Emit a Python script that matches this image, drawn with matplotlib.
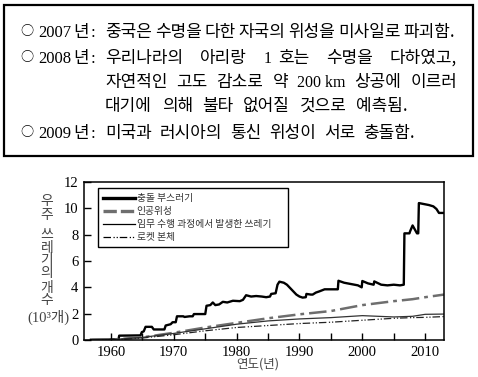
import numpy as np
import matplotlib
matplotlib.use('Agg')
import matplotlib.pyplot as plt
from matplotlib.lines import Line2D
from matplotlib.patches import Rectangle

# --- data (thousands of objects) ---
frag_years = [1956.8, 1961.2, 1961.3, 1964.7, 1964.9, 1965.2, 1965.5, 1966.5, 1966.8, 1968.5,
              1968.7, 1969.5, 1969.8, 1970.3, 1970.5, 1971.5, 1971.7, 1972.5, 1973.0, 1973.2,
              1975.0, 1975.2, 1975.8, 1976.2, 1976.6, 1977.2, 1977.8, 1978.5, 1979.4, 1980.5,
              1981.0, 1981.5, 1982.3, 1983.1, 1984.0, 1984.7, 1985.3, 1985.5, 1986.2, 1986.5,
              1986.8, 1987.5, 1988.0, 1988.5, 1989.0, 1989.5, 1990.0, 1990.5, 1991.0, 1991.1,
              1991.8, 1992.1, 1992.6, 1993.2, 1994.0, 1994.8, 1996.1, 1996.2, 1997.1, 1998.2,
              1999.3, 1999.9, 2000.0, 2000.9, 2001.8, 2001.9, 2003.0, 2004.0, 2005.0, 2006.0,
              2006.6, 2006.7, 2007.5, 2007.6, 2008.0, 2008.7, 2008.9, 2009.0, 2010.6, 2011.3,
              2011.8, 2012.2, 2013.0]
frag_vals = [0.02, 0.05, 0.33, 0.35, 0.6, 0.65, 1.0, 1.0, 0.8, 0.8,
             1.1, 1.2, 1.35, 1.35, 1.8, 1.8, 1.75, 1.8, 1.8, 1.97,
             1.97, 2.6, 2.65, 2.85, 2.65, 2.7, 2.9, 2.85, 2.98, 2.95,
             3.05, 3.4, 3.3, 3.34, 3.3, 3.25, 3.3, 3.5, 3.55, 4.2,
             4.43, 4.35, 4.2, 3.95, 3.7, 3.45, 3.3, 3.22, 3.25, 3.5,
             3.45, 3.45, 3.6, 3.7, 3.85, 3.85, 3.85, 4.5, 4.35, 4.25,
             4.15, 4.0, 4.48, 4.3, 4.2, 4.45, 4.2, 4.15, 4.2, 4.15,
             4.2, 8.1, 8.1, 8.25, 8.7, 8.1, 8.1, 10.4, 10.25, 10.15,
             9.95, 9.65, 9.65]

other_years = [1957, 1960, 1965, 1970, 1975, 1980, 1985, 1990, 1995, 2000, 2005, 2008, 2010, 2013]
sat_vals = [0.0, 0.03, 0.2, 0.55, 0.95, 1.3, 1.65, 1.95, 2.2, 2.65, 2.95, 3.1, 3.25, 3.45]
mission_vals = [0.0, 0.03, 0.2, 0.5, 0.85, 1.2, 1.45, 1.6, 1.7, 1.85, 1.75, 1.8, 1.95, 1.97]
rocket_vals = [0.0, 0.02, 0.15, 0.4, 0.7, 0.95, 1.1, 1.25, 1.35, 1.5, 1.65, 1.7, 1.72, 1.78]

legend_labels = ['충돌 부스러기', '인공위성', '임무 수행 과정에서 발생한 쓰레기', '로켓 본체']

# text lines of the box: (words, x start, x end, y centre); a tuple word is kept together
box_lines = [
    (['중국은', '수명을', '다한', '자국의', '위성을', '미사일로', '파괴함.'], 105, 455, 32),
    (['우리나라의', '아리랑', ('1', '호는'), '수명을', '다하였고,'], 105, 457, 58),
    (['자연적인', '고도', '감소로', '약', '200 km', '상공에', '이르러'], 105, 457, 82),
    (['대기에', '의해', '불타', '없어질', '것으로', '예측됨.'], 105, 408, 106),
    (['미국과', '러시아의', '통신', '위성이', '서로', '충돌함.'], 105, 415, 133),
]
year_marks = [('2007', 32), ('2008', 58), ('2009', 133)]

W, H = 478, 377
fig = plt.figure(figsize=(W / 100, H / 100), dpi=100)
serif = ['Liberation Serif', 'DejaVu Serif']
sans_kr = ['Noto Sans CJK KR', 'DejaVu Sans']


def fx(x):
    return x / W


def fy(y):
    return (H - y) / H


def has_hangul(s):
    return any('\uac00' <= c <= '\ud7a3' for c in s)


# --- top box ---
fig.add_artist(Rectangle((fx(3.5), fy(155.5)), fx(469), 150.5 / H, transform=fig.transFigure,
                         fill=False, edgecolor='black', linewidth=1.6))

renderer = fig.canvas.get_renderer()
fs_kr = 12.2
fs_num = 11.5
inner_gap = 7


def make_text(w, y):
    if has_hangul(w):
        return fig.text(0, fy(y), w, family=sans_kr, fontsize=fs_kr, va='center', ha='left')
    return fig.text(0, fy(y + 1), w, family=serif, fontsize=fs_num, va='center', ha='left')


for words, x0, x1, y in box_lines:
    groups = []
    for w in words:
        parts = w if isinstance(w, tuple) else (w,)
        texts = [make_text(p, y) for p in parts]
        widths = [t.get_window_extent(renderer).width for t in texts]
        groups.append((texts, widths))
    total = sum(sum(ws) + inner_gap * (len(ws) - 1) for _, ws in groups)
    gap = (x1 - x0 - total) / (len(groups) - 1)
    x = x0
    for texts, widths in groups:
        for t, w in zip(texts, widths):
            t.set_x(fx(x))
            x += w + inner_gap
        x += gap - inner_gap

for yr, y in year_marks:
    fig.text(fx(20), fy(y), '○', family=sans_kr, fontsize=9.5, va='center', ha='left')
    fig.text(fx(38), fy(y + 1), yr, family=serif, fontsize=12, va='center', ha='left')
    fig.text(fx(73), fy(y), '년', family=sans_kr, fontsize=fs_kr, va='center', ha='left')
    fig.text(fx(91), fy(y + 1), ':', family=serif, fontsize=12, va='center', ha='left')

# --- chart ---
ax = fig.add_axes([fx(84), fy(340), fx(360), 158 / H])
ax.plot(frag_years, frag_vals, color='black', linewidth=1.7)
ax.plot(other_years, sat_vals, color='#6e6e6e', linewidth=1.8, linestyle=(0, (7, 2, 1.5, 2)))
ax.plot(other_years, mission_vals, color='#333333', linewidth=0.9)
ax.plot(other_years, rocket_vals, color='#222222', linewidth=0.9, linestyle=(0, (6, 2, 1, 1.5, 1, 1.5)))

ax.set_xlim(1955.7, 2013)
ax.set_ylim(0, 12)
ax.set_xticks([1960, 1970, 1980, 1990, 2000, 2010])
ax.set_xticks(np.arange(1965, 2010, 10), minor=True)
ax.set_yticks(np.arange(0, 13, 2))
ax.tick_params(direction='in', length=5, width=1, labelsize=10.5, pad=4)
ax.tick_params(which='minor', direction='in', length=5, width=1)
for lab in ax.get_xticklabels() + ax.get_yticklabels():
    lab.set_family('Liberation Serif')
for s in ax.spines.values():
    s.set_linewidth(1.1)

handles = [
    Line2D([], [], color='black', linewidth=2.4),
    Line2D([], [], color='#6e6e6e', linewidth=2.4, linestyle=(0, (4, 1.2))),
    Line2D([], [], color='black', linewidth=0.9),
    Line2D([], [], color='black', linewidth=0.9, linestyle=(0, (6, 2, 1, 1.5, 1, 1.5))),
]
leg = ax.legend(handles, legend_labels, loc='upper left',
                bbox_to_anchor=(0.038, 0.96, 0.53, 0.0), mode='expand',
                prop={'family': sans_kr, 'size': 7}, handlelength=3.3, handletextpad=0.2,
                labelspacing=0.3, borderpad=0.5, fancybox=False, framealpha=1,
                edgecolor='black', borderaxespad=0)
leg.get_frame().set_linewidth(1.0)
for t in leg.get_texts():
    t.set_color('#333333')

# axis labels
lab_col = '#444444'
fig.text(fx(47), fy(208), '우\n주', family=sans_kr, fontsize=10, color=lab_col,
         ha='center', va='center', linespacing=0.95)
fig.text(fx(47), fy(254), '쓰\n레\n기\n의', family=sans_kr, fontsize=10, color=lab_col,
         ha='center', va='center', linespacing=0.9)
fig.text(fx(47), fy(294), '개\n수', family=sans_kr, fontsize=10, color=lab_col,
         ha='center', va='center', linespacing=0.9)
fig.text(fx(48), fy(317), '(10³개)', family=['Liberation Serif', 'Noto Sans CJK KR'],
         fontsize=10.5, color=lab_col, ha='center', va='center')
fig.text(fx(258), fy(364), '연도(년)', family=sans_kr, fontsize=9, color=lab_col,
         ha='center', va='center')

fig.savefig('out.png', dpi=100)
